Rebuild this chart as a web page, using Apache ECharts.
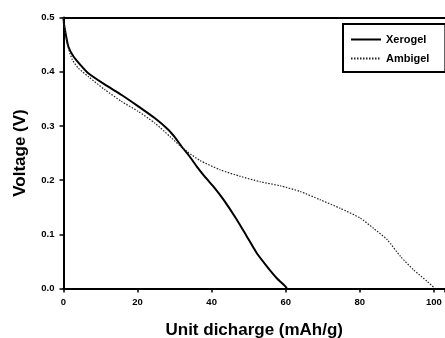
<!DOCTYPE html>
<html><head><meta charset="utf-8">
<script src="https://cdn.jsdelivr.net/npm/echarts@6/dist/echarts.min.js"></script>
<style>html,body{margin:0;padding:0;background:#fff}#c{width:445px;height:338px}</style>
</head><body><div id="c"></div>
<script>
const seriesNames = ['Xerogel', 'Ambigel'];
const xerogelX = [0, 0.1, 0.4, 1.3, 2.7, 4.5, 6.7, 11.2, 15.7, 20.2, 24.7, 28.3, 30.2, 31.9, 34, 36, 38.2, 40.5, 43.2, 46.8, 49.5, 52.2, 54.9, 57.6, 59.9, 60.3];
const xerogelY = [0.5, 0.49, 0.477, 0.4465, 0.428, 0.413, 0.397, 0.376, 0.357, 0.336, 0.314, 0.293, 0.278, 0.262, 0.244, 0.225, 0.206, 0.188, 0.164, 0.127, 0.096, 0.065, 0.041, 0.019, 0.004, 0];
const ambigelX = [0, 0.1, 0.4, 1.3, 2.4, 4, 6.7, 11.2, 15.7, 20.2, 24.7, 28.8, 31.5, 33.5, 36.9, 42.3, 47.7, 53.1, 58.5, 63.9, 69.3, 74.7, 80.1, 83.7, 87.4, 91, 94.5, 98.2, 100.3];
const ambigelY = [0.5, 0.49, 0.475, 0.444, 0.422, 0.4066, 0.391, 0.3666, 0.345, 0.3266, 0.305, 0.28, 0.263, 0.252, 0.236, 0.219, 0.207, 0.197, 0.1895, 0.179, 0.1637, 0.148, 0.130, 0.111, 0.090, 0.059, 0.0345, 0.013, 0];
const xTicks = [0, 20, 40, 60, 80, 100];
const yTicks = [0.0, 0.1, 0.2, 0.3, 0.4, 0.5];

const zip = (xs, ys) => xs.map((x, i) => [x, ys[i]]);
const font = 'Liberation Sans, Arial, sans-serif';
const chart = echarts.init(document.getElementById('c'), null, {renderer: 'canvas'});
chart.setOption({
  animation: false,
  backgroundColor: '#fff',
  grid: {left: 63.5, top: 17.5, right: 0, bottom: 49.5, containLabel: false, outerBoundsMode: 'none'},
  legend: {
    orient: 'vertical', left: 343, top: 24, itemWidth: 30, itemHeight: 10, itemGap: 8,
    padding: [10, 16, 8, 7], borderColor: '#000', borderWidth: 2, backgroundColor: '#fff',
    data: seriesNames,
    itemStyle: {opacity: 0},
    textStyle: {fontFamily: font, fontWeight: 'bold', fontSize: 11, color: '#000'}
  },
  xAxis: [{
    type: 'value', min: 0, max: 103, interval: 20, position: 'bottom',
    name: 'Unit dicharge (mAh/g)', nameLocation: 'middle', nameGap: 33,
    nameTextStyle: {fontFamily: font, fontWeight: 'bold', fontSize: 17, color: '#000'},
    axisLine: {lineStyle: {color: '#000', width: 2}},
    axisTick: {show: true, inside: false, length: 4, lineStyle: {color: '#000', width: 1.5}},
    axisLabel: {fontFamily: font, fontWeight: 'bold', fontSize: 9.5, color: '#000', margin: 9,
      formatter: v => xTicks.includes(v) ? String(v) : ''},
    splitLine: {show: false}
  }, {
    type: 'value', min: 0, max: 103, position: 'top',
    axisLine: {show: true, lineStyle: {color: '#000', width: 2}},
    axisTick: {show: false}, axisLabel: {show: false}, splitLine: {show: false}
  }],
  yAxis: {
    type: 'value', min: 0, max: 0.5, interval: 0.1,
    name: 'Voltage (V)', nameLocation: 'middle', nameGap: 35,
    nameTextStyle: {fontFamily: font, fontWeight: 'bold', fontSize: 17, color: '#000'},
    axisLine: {show: true, lineStyle: {color: '#000', width: 2}},
    axisTick: {show: true, inside: false, length: 4, lineStyle: {color: '#000', width: 1.5}},
    axisLabel: {fontFamily: font, fontWeight: 'bold', fontSize: 9.5, color: '#000', margin: 9,
      formatter: v => { const t = yTicks.find(t => Math.abs(t - v) < 1e-9); return t === undefined ? '' : t.toFixed(1); }},
    splitLine: {show: false}
  },
  series: [{
    name: seriesNames[0], type: 'line', data: zip(xerogelX, xerogelY), symbol: 'none', smooth: 0.2,
    lineStyle: {color: '#000', width: 2, type: 'solid'}, itemStyle: {color: '#000'}
  }, {
    name: seriesNames[1], type: 'line', data: zip(ambigelX, ambigelY), symbol: 'none', smooth: 0.2,
    lineStyle: {color: '#222', width: 1.2, type: [1.5, 1.5]}, itemStyle: {color: '#222'}
  }]
});
</script></body></html>
